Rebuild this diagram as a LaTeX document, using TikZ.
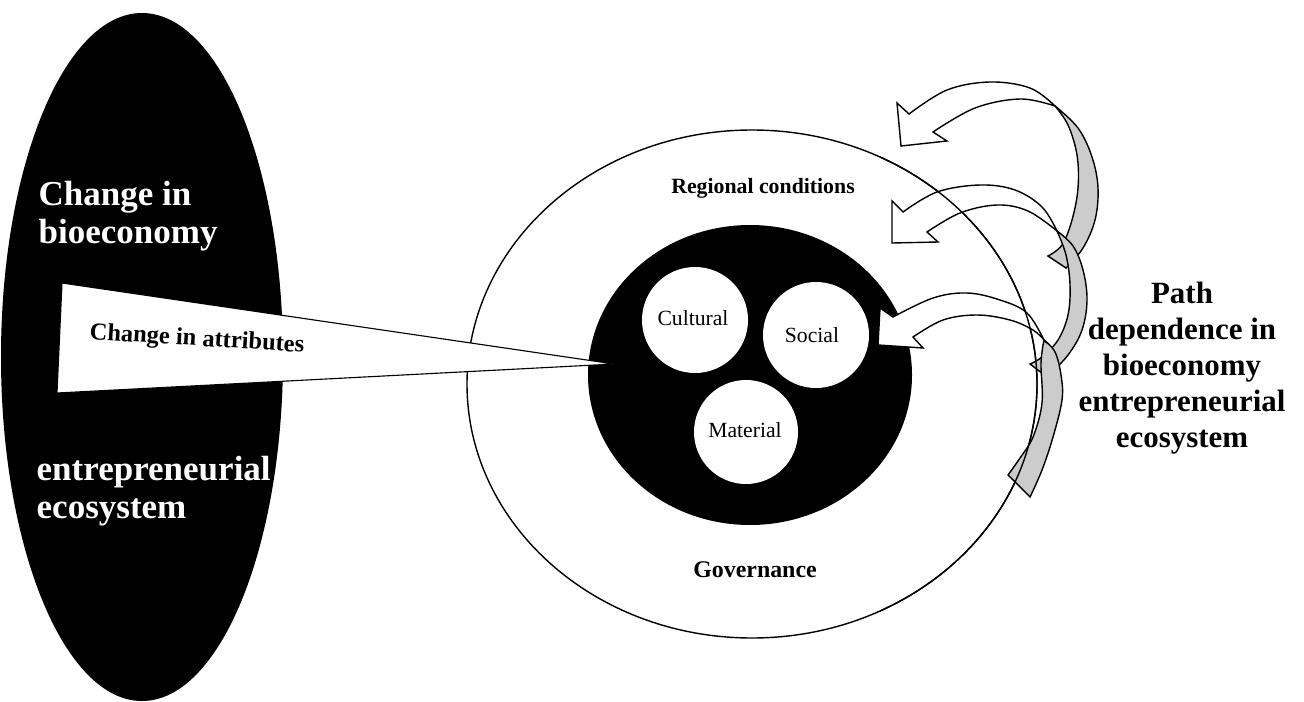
\documentclass[tikz,border=0pt]{standalone}
\usepackage{fontspec}
\setmainfont{Liberation Serif}
\usetikzlibrary{positioning}
\begin{document}
\begin{tikzpicture}[x=0.25mm, y=-0.25mm, line width=1pt,
    bigtext/.style={font=\fontsize{24.9}{27}\selectfont\bfseries, text=white,
      align=left, inner sep=0pt},
    pathtext/.style={font=\fontsize{22}{25.6}\selectfont\bfseries, align=center,
      inner sep=0pt},
    ringtext/.style={font=\fontsize{15.5}{18}\selectfont\bfseries, inner sep=0pt},
    dimtext/.style={font=\fontsize{15.4}{18}\selectfont, inner sep=0pt},
    ribbon/.style={draw=black, fill=white, line join=miter},
    back/.style={draw=black, fill=black!20, line join=miter}]
  \useasboundingbox (0,0) rectangle (1304,701);

  % left ellipse
  \fill (142,357) ellipse [x radius=141, y radius=344];

  % regional ring and attribute core
  \draw[fill=white] (752,384) ellipse [x radius=285, y radius=254];
  \fill (750,375) ellipse [x radius=162, y radius=150];
  \fill[white] (695,320) circle [radius=53];
  \fill[white] (816,335) circle [radius=53];
  \fill[white] (746,432) circle [radius=52];

  % wedge
  \filldraw[fill=white, line width=0.8pt] (62,283) -- (614,364) -- (57,393) -- cycle;

  \node[bigtext, anchor=west] (chg) at (38,216) {Change in\\bioeconomy};
  \node[bigtext, anchor=west] (eco) at (36,491) {entrepreneurial\\ecosystem};
  \node[ringtext, font=\fontsize{17.4}{20}\selectfont\bfseries, rotate=-3.5]
    (attr) at (197,340) {Change in attributes};
  \node[ringtext] (reg) at (763,188) {Regional conditions};
  \node[ringtext, font=\fontsize{17}{20}\selectfont\bfseries] (gov) at (755,570) {Governance};
  \node[dimtext] (cult) at (693,318) {Cultural};
  \node[dimtext] (soc) at (812,335) {Social};
  \node[dimtext] (mat) at (745,430) {Material};
  \node[pathtext] (path) at (1182,368)
    {Path\\dependence in\\bioeconomy\\entrepreneurial\\ecosystem};

  % curved arrows, top
  \filldraw[back] plot[smooth, tension=0.6] coordinates {(1055,106) (1068,125)
      (1077,155) (1078,188) (1072,220) (1062,245) (1048,256)}
    -- plot[smooth, tension=0.6] coordinates {(1066,268) (1083,248) (1095,220)
      (1098,188) (1092,157) (1078,128) (1055,106)} -- cycle;
  \filldraw[ribbon] (897,103) -- (901,146) -- (947,141) -- (933,132)
    -- plot[smooth, tension=0.6] coordinates {(933,132) (975,108) (1020,99) (1055,106)}
    -- plot[smooth, tension=0.6] coordinates {(1055,106) (1030,88) (990,82)
      (947,90) (909,114)} -- cycle;

  % middle
  \filldraw[back] plot[smooth, tension=0.6] coordinates {(1057,231) (1066,255)
      (1070,285) (1068,315) (1058,340) (1042,357) (1030,364)}
    -- plot[smooth, tension=0.6] coordinates {(1047,377) (1068,355) (1082,330)
      (1087,300) (1083,270) (1073,246) (1057,231)} -- cycle;
  \filldraw[ribbon] (892,201) -- (892,243) -- (938,242) -- (927,232)
    -- plot[smooth, tension=0.6] coordinates {(927,232) (960,213) (997,205)
      (1028,211) (1057,231)}
    -- plot[smooth, tension=0.6] coordinates {(1057,231) (1042,207) (1015,190)
      (980,185) (937,192) (903,212)} -- cycle;

  % bottom
  \filldraw[back] plot[smooth, tension=0.6] coordinates {(1044,340) (1041,363)
      (1042,403) (1033,437) (1020,458) (1008,475)}
    -- plot[smooth, tension=0.6] coordinates {(1030,497) (1042,470) (1053,437)
      (1062,400) (1061,375) (1055,352) (1044,340)} -- cycle;
  \filldraw[ribbon] (880,308) -- (878,345) -- (923,348) -- (913,337)
    -- plot[smooth, tension=0.6] coordinates {(913,337) (943,320) (977,315)
      (1010,320) (1033,330) (1044,340)}
    -- plot[smooth, tension=0.6] coordinates {(1044,340) (1027,313) (1000,300)
      (967,293) (933,298) (893,317)} -- cycle;

  % ring line seen through the arrows
  \begin{scope}
    \clip (880,0) rectangle (1304,701);
    \draw (752,384) ellipse [x radius=285, y radius=254];
  \end{scope}
\end{tikzpicture}
\end{document}
